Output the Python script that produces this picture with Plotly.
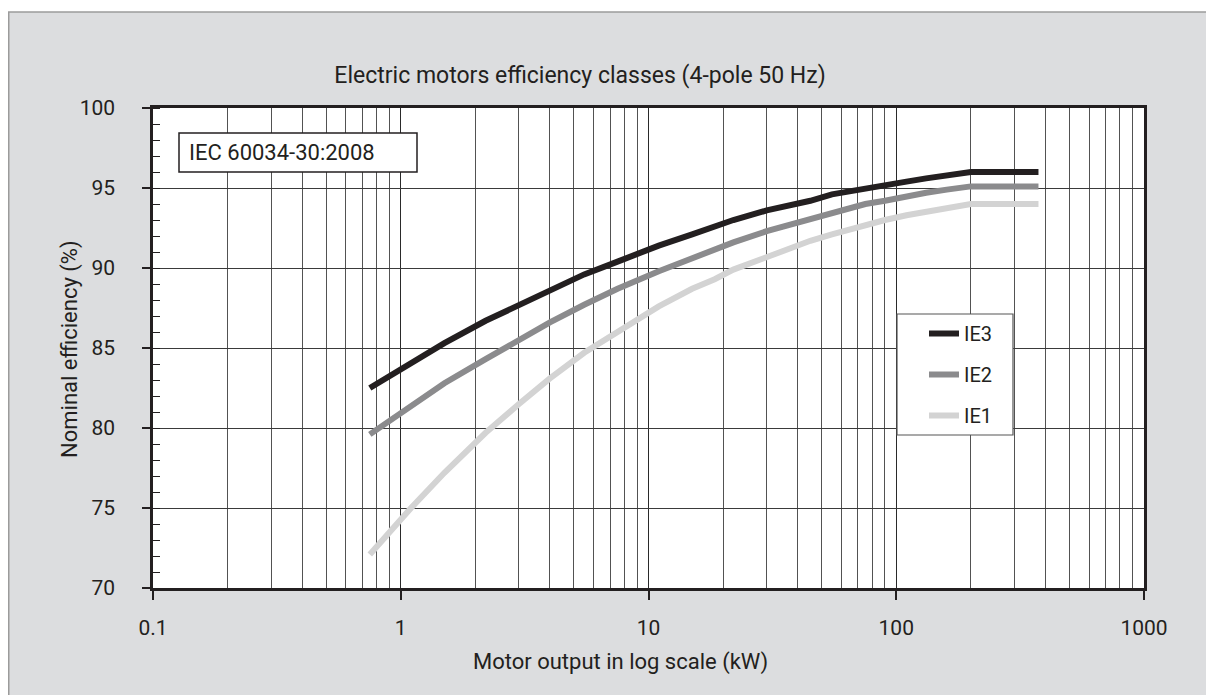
import plotly.graph_objects as go

# ---- data (IEC 60034-30:2008, 4-pole 50 Hz) ----
power_kw = [0.75, 1.1, 1.5, 2.2, 3, 4, 5.5, 7.5, 11, 15, 18.5, 22, 30, 37, 45, 55, 75, 90, 110, 132, 160, 200, 375]
ie1 = [72.1, 75.0, 77.2, 79.7, 81.5, 83.1, 84.7, 86.0, 87.6, 88.7, 89.3, 89.9, 90.7, 91.2, 91.7, 92.1, 92.7, 93.0, 93.3, 93.5, 93.8, 94.0, 94.0]
ie2 = [79.6, 81.4, 82.8, 84.3, 85.5, 86.6, 87.7, 88.7, 89.8, 90.6, 91.2, 91.6, 92.3, 92.7, 93.1, 93.5, 94.0, 94.2, 94.5, 94.7, 94.9, 95.1, 95.1]
ie3 = [82.5, 84.1, 85.3, 86.7, 87.7, 88.6, 89.6, 90.4, 91.4, 92.1, 92.6, 93.0, 93.6, 93.9, 94.2, 94.6, 95.0, 95.2, 95.4, 95.6, 95.8, 96.0, 96.0]

x_tickvals = [0.1, 1, 10, 100, 1000]
x_ticktext = ["0.1", "1", "10", "100", "1000"]
x_minor = [m * d for d in (0.1, 1, 10, 100) for m in range(2, 10)]
y_tickvals = [70, 75, 80, 85, 90, 95, 100]

title_text = "Electric motors efficiency classes (4-pole 50 Hz)"
x_title = "Motor output in log scale (kW)"
y_title = "Nominal efficiency (%)"
box_text = "IEC 60034-30:2008"

# ---- layout geometry (page pixels; the page body adds an 8px offset) ----
W, H = 1214, 695
OFF = 8
L, R, T, B = 153 - OFF, 1144 - OFF, 108 - OFF, 588 - OFF
PW, PH = R - L, B - T


def px(x):
    """page x pixel -> paper coordinate"""
    return (x - OFF - L) / PW


def py(y):
    """page y pixel -> paper coordinate"""
    return (B - (y - OFF)) / PH


FONT = "Roboto"
INK = "#231f20"
FS = 21

fig = go.Figure()
series = [("IE3", ie3, "#231f20"), ("IE2", ie2, "#8b8b8d"), ("IE1", ie1, "#d3d3d3")]
for name, vals, col in series:
    fig.add_trace(go.Scatter(
        x=power_kw, y=vals, mode="lines", name=name,
        line=dict(color=col, width=6), legendgroup=name,
    ))

shapes = [
    # white strip above the grey frame
    dict(type="rect", xref="paper", yref="paper", x0=px(0), x1=px(W + 20), y0=py(12), y1=py(-5),
         fillcolor="white", line=dict(width=0), layer="below"),
    dict(type="line", xref="paper", yref="paper", x0=px(8.75), x1=px(8.75), y0=py(12), y1=py(H + 20),
         line=dict(color="#9b9b9b", width=1.5)),
    dict(type="line", xref="paper", yref="paper", x0=px(8), x1=px(W + 20), y0=py(12), y1=py(12),
         line=dict(color="#9b9b9b", width=1.5)),
    # IEC box
    dict(type="rect", xref="paper", yref="paper", x0=px(179), x1=px(417), y0=py(172), y1=py(133),
         fillcolor="white", line=dict(color=INK, width=1.5), layer="above"),
    # legend box
    dict(type="rect", xref="paper", yref="paper", x0=px(897), x1=px(1013), y0=py(435), y1=py(314),
         fillcolor="white", line=dict(color="#555555", width=1.2), layer="above"),
]

annotations = [
    dict(text=box_text, xref="paper", yref="paper", x=px(187), y=py(152.5), xanchor="left",
         yanchor="middle", showarrow=False, font=dict(family=FONT, size=22, color=INK)),
    dict(text=x_title, xref="paper", yref="paper", x=px(620), y=py(662), xanchor="center",
         yanchor="middle", showarrow=False, font=dict(family=FONT, size=22, color=INK)),
    dict(text=y_title, xref="paper", yref="paper", x=px(70), y=py(349), xanchor="center",
         yanchor="middle", showarrow=False, textangle=-90, font=dict(family=FONT, size=22, color=INK)),
]

fig.update_layout(
    width=W, height=H,
    margin=dict(l=L, r=W - R, t=T, b=H - B, pad=0),
    paper_bgcolor="#dcdddf",
    plot_bgcolor="white",
    title=dict(text=title_text, x=(580 - OFF) / W, y=1 - (75 - OFF) / H, xref="container", yref="container",
               xanchor="center", yanchor="middle", font=dict(family=FONT, size=23, color=INK)),
    font=dict(family=FONT, size=FS, color=INK),
    showlegend=True,
    legend=dict(x=px(929 - 5), y=py(314), xanchor="left", yanchor="top",
                bgcolor="rgba(0,0,0,0)", borderwidth=0, traceorder="grouped",
                tracegroupgap=12, font=dict(family=FONT, size=20, color=INK)),
    shapes=shapes,
    annotations=annotations,
)

fig.update_xaxes(
    type="log", range=[-1, 3],
    tickmode="array", tickvals=x_tickvals, ticktext=x_ticktext,
    ticks="outside", ticklen=9, tickwidth=1.5, tickcolor=INK,
    ticklabelstandoff=10,
    showgrid=True, gridcolor="#2a2a2a", gridwidth=1,
    showline=True, linecolor=INK, linewidth=2.5, mirror=True,
    minor=dict(tickmode="array", tickvals=x_minor, showgrid=True, gridcolor="#525252",
               gridwidth=1, ticks=""),
    zeroline=False,
    tickfont=dict(family=FONT, size=FS, color=INK),
)

fig.update_yaxes(
    range=[70, 100],
    tickmode="array", tickvals=y_tickvals,
    ticks="outside", ticklen=8, tickwidth=1.5, tickcolor=INK,
    ticklabelstandoff=23,
    showgrid=True, gridcolor="#3a3a3a", gridwidth=1,
    showline=True, linecolor=INK, linewidth=2.5, mirror=True,
    minor=dict(dtick=1, ticks="inside", ticklen=7, tickcolor=INK, tickwidth=1.2, showgrid=False),
    zeroline=False,
    tickfont=dict(family=FONT, size=FS, color=INK),
)

fig.write_html("out.html")
